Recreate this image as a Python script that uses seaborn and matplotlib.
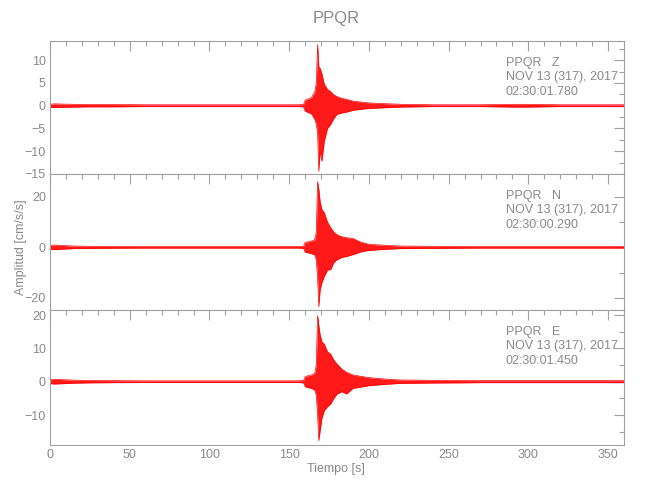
import matplotlib
matplotlib.use('Agg')
import matplotlib.pyplot as plt
from matplotlib.ticker import MultipleLocator
import seaborn as sns

# envelope of each trace (upper / lower peak values, cm/s/s)
t_env = [0, 3, 8, 15, 25, 40, 60, 80, 100, 120, 140, 155, 159, 160, 162, 164, 166, 167,
         167.8, 168.6, 169.4, 170.5, 172, 174, 176, 178, 180, 183, 186, 190, 195, 200,
         210, 220, 240, 270, 290, 300, 320, 340, 360]

z_hi = [0.35, 0.4, 0.35, 0.3, 0.25, 0.25, 0.2, 0.2, 0.2, 0.2, 0.2, 0.2, 0.25, 1.2, 1.5, 1.8,
        3.0, 5.0, 13.4, 8.5, 8.2, 7.0, 4.7, 3.6, 3.1, 2.4, 2.0, 1.6, 1.4, 1.0, 0.8, 0.6,
        0.45, 0.3, 0.2, 0.2, 0.3, 0.3, 0.2, 0.2, 0.2]
z_lo = [-0.35, -0.4, -0.35, -0.3, -0.25, -0.25, -0.2, -0.2, -0.2, -0.2, -0.2, -0.2, -0.25,
        -1.2, -1.5, -1.8, -3.0, -4.0, -6.0, -14.4, -10.0, -12.2, -7.8, -5.0, -4.1, -2.8,
        -1.9, -1.6, -1.4, -1.0, -0.8, -0.6, -0.45, -0.3, -0.2, -0.2, -0.3, -0.3, -0.2,
        -0.2, -0.2]

n_hi = [0.8, 0.9, 0.7, 0.5, 0.4, 0.35, 0.3, 0.3, 0.3, 0.3, 0.3, 0.3, 0.4, 2.0, 2.2, 2.5,
        3.0, 6.0, 26.0, 22.9, 18.0, 15.0, 13.7, 10.0, 7.8, 6.0, 5.0, 4.2, 3.8, 3.5, 2.0,
        1.2, 0.8, 0.5, 0.4, 0.3, 0.3, 0.3, 0.3, 0.3, 0.3]
n_lo = [-0.8, -0.9, -0.7, -0.5, -0.4, -0.35, -0.3, -0.3, -0.3, -0.3, -0.3, -0.3, -0.4,
        -2.0, -2.2, -2.5, -3.0, -5.0, -12.0, -23.5, -16.8, -14.0, -11.5, -9.0, -8.8, -6.0,
        -4.9, -4.0, -3.6, -2.9, -1.8, -1.2, -0.8, -0.5, -0.4, -0.3, -0.3, -0.3, -0.3,
        -0.3, -0.3]

e_hi = [0.6, 0.7, 0.6, 0.45, 0.35, 0.3, 0.25, 0.25, 0.25, 0.25, 0.25, 0.25, 0.35, 1.5, 1.8,
        2.0, 2.5, 5.0, 19.8, 16.8, 14.0, 12.0, 11.3, 9.0, 8.3, 6.5, 5.3, 3.8, 2.8, 2.0, 1.6,
        1.2, 0.8, 0.5, 0.4, 0.3, 0.3, 0.3, 0.3, 0.3, 0.3]
e_lo = [-0.6, -0.7, -0.6, -0.45, -0.35, -0.3, -0.25, -0.25, -0.25, -0.25, -0.25, -0.25,
        -0.35, -1.5, -1.8, -2.0, -2.5, -4.0, -10.0, -17.7, -14.7, -11.0, -8.7, -7.5, -6.7,
        -5.0, -3.7, -3.0, -3.7, -2.0, -1.6, -1.2, -0.8, -0.5, -0.4, -0.3, -0.3, -0.3, -0.3,
        -0.3, -0.3]

components = ['Z', 'N', 'E']
start_times = ['02:30:01.780', '02:30:00.290', '02:30:01.450']
date_label = 'NOV 13 (317), 2017'
station = 'PPQR'

y_limits = [(-15, 14.2), (-24.8, 29), (-19, 21.5)]
y_major = [5, 20, 10]
y_minor = [2.5, 10, 5]
x_ticks = [0, 50, 100, 150, 200, 250, 300, 350]

sns.set_theme(style='white')
plt.rcParams['font.family'] = ['Liberation Sans', 'DejaVu Sans']

axis_gray = '#a0a0a0'
text_gray = '#8a8a8a'

fig = plt.figure(figsize=(6.5, 5), dpi=100)
positions = [[0.077, 0.652, 0.883, 0.266],
             [0.077, 0.380, 0.883, 0.272],
             [0.077, 0.110, 0.883, 0.270]]
traces = [(z_hi, z_lo), (n_hi, n_lo), (e_hi, e_lo)]

for i, (hi, lo) in enumerate(traces):
    ax = fig.add_axes(positions[i])
    sns.lineplot(x=t_env, y=hi, ax=ax, color='red', lw=0.5)
    sns.lineplot(x=t_env, y=lo, ax=ax, color='red', lw=0.5)
    ax.fill_between(t_env, lo, hi, color='red', lw=0, alpha=0.9)

    ax.set_xlim(0, 360)
    ax.set_ylim(*y_limits[i])
    ax.set_xticks(x_ticks)
    ax.xaxis.set_minor_locator(MultipleLocator(10))
    ax.yaxis.set_major_locator(MultipleLocator(y_major[i]))
    ax.yaxis.set_minor_locator(MultipleLocator(y_minor[i]))
    ax.tick_params(which='both', direction='in', top=True, right=True,
                   colors=axis_gray, labelcolor=text_gray, labelsize=9, width=0.8, pad=3)
    ax.tick_params(which='major', length=7)
    ax.tick_params(which='minor', length=3.5)
    ax.tick_params(axis='x', labelbottom=(i == 2))
    for s in ax.spines.values():
        s.set_color(axis_gray)
        s.set_linewidth(0.8)

    info = [f'{station}   {components[i]}', date_label, start_times[i]]
    for k, line in enumerate(info):
        ax.annotate(line, xy=(0.794, 1), xycoords='axes fraction',
                    xytext=(0, -15.8 - 10.3 * k), textcoords='offset points',
                    va='center', ha='left', fontsize=9, color=text_gray)

fig.text(0.517, 0.964, station, ha='center', va='center', fontsize=12, color=text_gray)
fig.text(0.517, 0.062, 'Tiempo [s]', ha='center', va='center', fontsize=9, color=text_gray)
fig.text(0.032, 0.506, 'Amplitud [cm/s/s]', ha='center', va='center', rotation=90,
         fontsize=9, color=text_gray)

plt.savefig('out.png', dpi=100)
